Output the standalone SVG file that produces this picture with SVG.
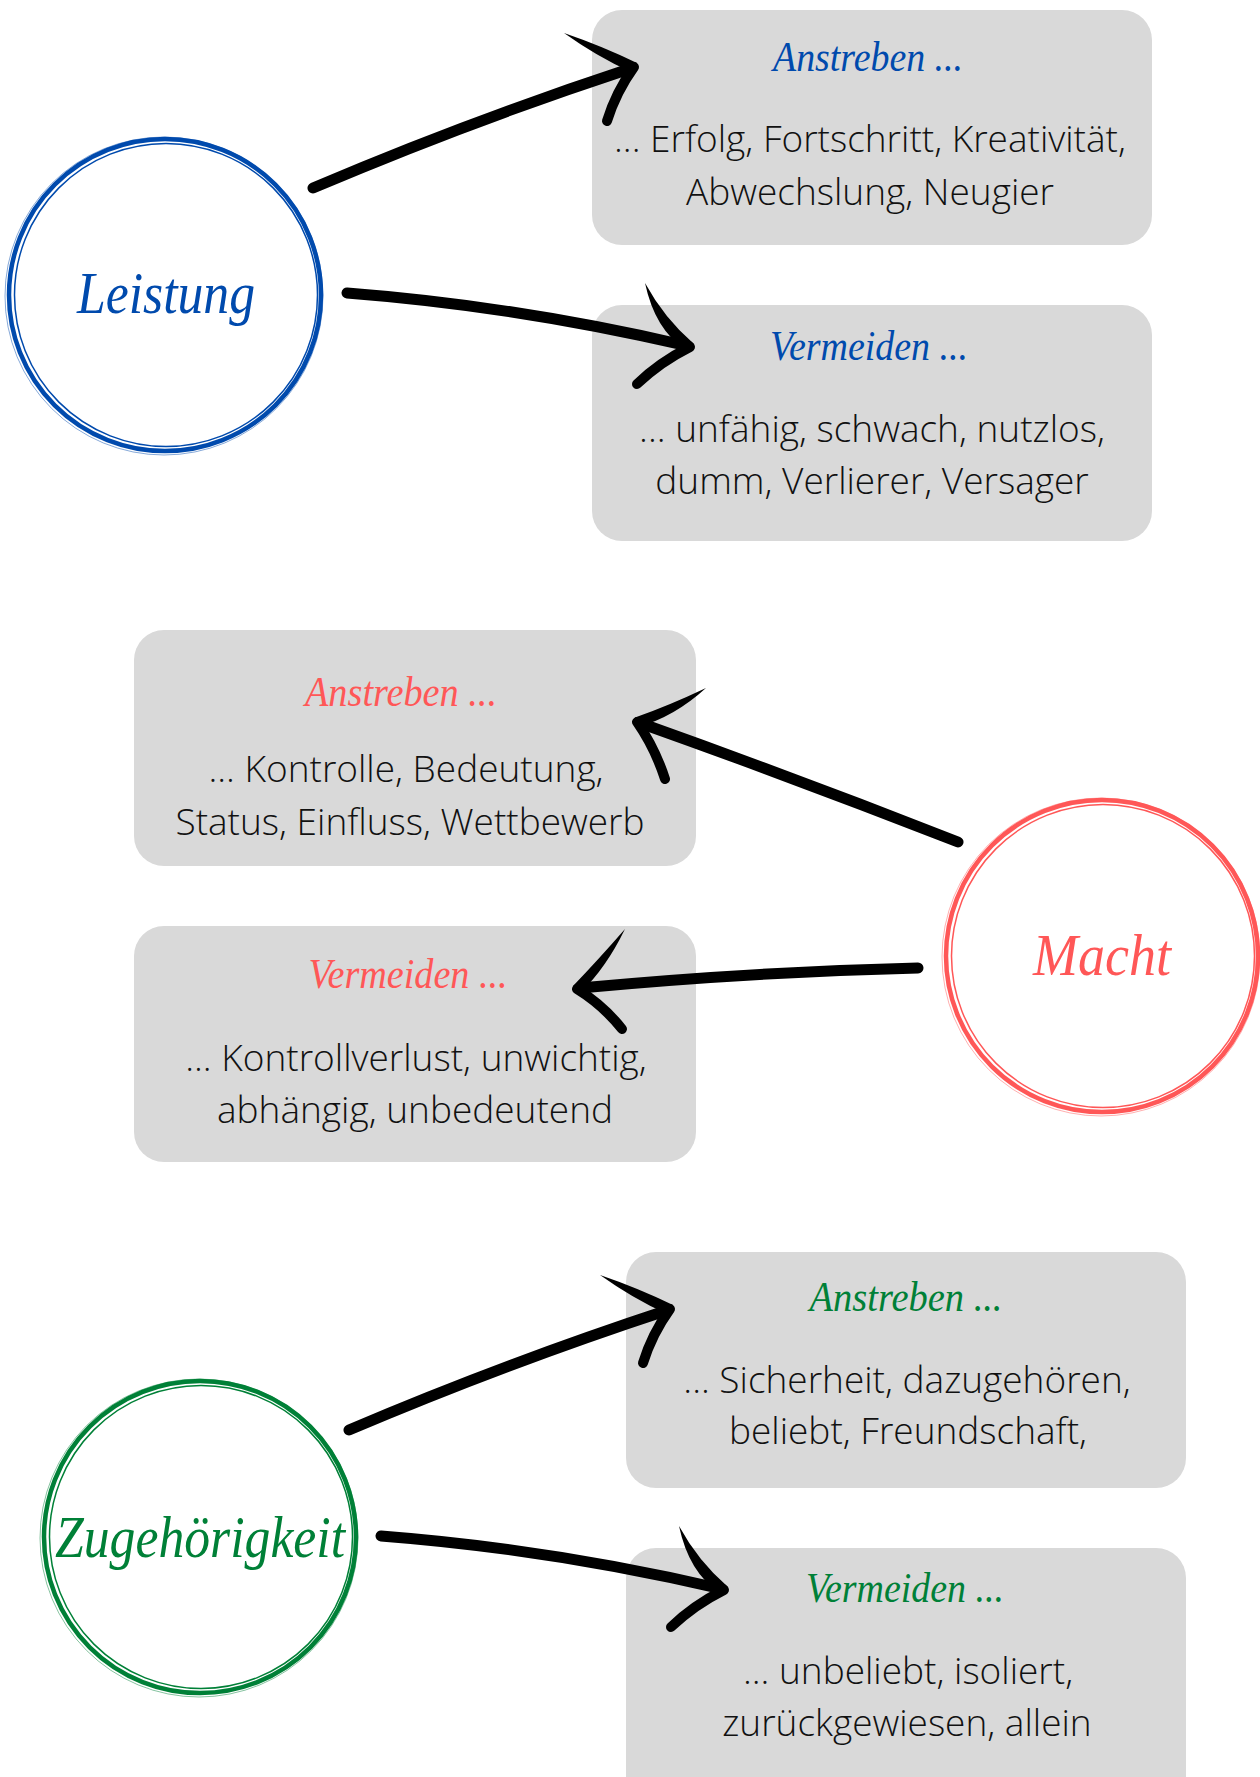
<svg xmlns="http://www.w3.org/2000/svg" width="1260" height="1777" viewBox="0 0 1260 1777">
<style>
.box{fill:#d9d9d9}
.body{font-family:"Open Sans","Noto Sans",sans-serif;font-weight:300;font-size:37px;fill:#111;text-anchor:middle}
.head{font-family:"Liberation Serif",serif;font-style:italic;font-size:42px;text-anchor:middle}
.lbl{font-family:"Liberation Serif",serif;font-style:italic;font-size:60px;text-anchor:middle}
.blue{fill:#004aad}.red{fill:#ff5757}.green{fill:#008037}
.ring{fill:none}
.shaft{fill:none;stroke:#000;stroke-width:11;stroke-linecap:round}
.barb{fill:none;stroke:#000;stroke-width:10;stroke-linecap:round}
.tip{fill:#000}
</style>
<rect width="1260" height="1777" fill="#fff"/>

<g id="leistung">
<circle class="ring" cx="165" cy="295" r="156" stroke="#004aad" stroke-width="4.5"/>
<circle class="ring" cx="166" cy="295" r="151.5" stroke="#004aad" stroke-width="1.5"/>
<circle class="ring" cx="164" cy="296" r="159" stroke="#004aad" stroke-width="0.8" opacity="0.6"/>
<text class="lbl blue" x="166" y="313" textLength="178" lengthAdjust="spacingAndGlyphs">Leistung</text>
</g>

<g id="leistung-anstreben">
<rect class="box" x="592" y="10" width="560" height="235" rx="30"/>
<text class="head blue" x="868" y="71" textLength="190" lengthAdjust="spacingAndGlyphs">Anstreben ...</text>
<text class="body" x="870" y="152">... Erfolg, Fortschritt, Kreativität,</text>
<text class="body" x="870" y="205">Abwechslung, Neugier</text>
</g>

<g id="leistung-vermeiden">
<rect class="box" x="592" y="305" width="560" height="236" rx="30"/>
<text class="head blue" x="869" y="360" textLength="198" lengthAdjust="spacingAndGlyphs">Vermeiden ...</text>
<text class="body" x="872" y="442">... unfähig, schwach, nutzlos,</text>
<text class="body" x="872" y="494">dumm, Verlierer, Versager</text>
</g>

<g id="macht">
<circle class="ring" cx="1102" cy="956" r="156" stroke="#ff5757" stroke-width="4.5"/>
<circle class="ring" cx="1103" cy="956" r="151.5" stroke="#ff5757" stroke-width="1.5"/>
<circle class="ring" cx="1101" cy="957" r="159" stroke="#ff5757" stroke-width="0.8" opacity="0.6"/>
<text class="lbl red" x="1102" y="975" textLength="138" lengthAdjust="spacingAndGlyphs">Macht</text>
</g>

<g id="macht-anstreben">
<rect class="box" x="134" y="630" width="562" height="236" rx="30"/>
<text class="head red" x="401" y="706" textLength="192" lengthAdjust="spacingAndGlyphs">Anstreben ...</text>
<text class="body" x="406" y="782">... Kontrolle, Bedeutung,</text>
<text class="body" x="410" y="835">Status, Einfluss, Wettbewerb</text>
</g>

<g id="macht-vermeiden">
<rect class="box" x="134" y="926" width="562" height="236" rx="30"/>
<text class="head red" x="408" y="988" textLength="199" lengthAdjust="spacingAndGlyphs">Vermeiden ...</text>
<text class="body" x="416" y="1071">... Kontrollverlust, unwichtig,</text>
<text class="body" x="415" y="1123">abhängig, unbedeutend</text>
</g>

<g id="zugehoerigkeit">
<circle class="ring" cx="200" cy="1537" r="156" stroke="#008037" stroke-width="4.5"/>
<circle class="ring" cx="201" cy="1537" r="151.5" stroke="#008037" stroke-width="1.5"/>
<circle class="ring" cx="199" cy="1538" r="159" stroke="#008037" stroke-width="0.8" opacity="0.6"/>
<text class="lbl green" x="200" y="1557" textLength="290" lengthAdjust="spacingAndGlyphs">Zugehörigkeit</text>
</g>

<g id="zugehoerigkeit-anstreben">
<rect class="box" x="626" y="1252" width="560" height="236" rx="30"/>
<text class="head green" x="906" y="1311" textLength="193" lengthAdjust="spacingAndGlyphs">Anstreben ...</text>
<text class="body" x="907" y="1393">... Sicherheit, dazugehören,</text>
<text class="body" x="908" y="1444">beliebt, Freundschaft,</text>
</g>

<g id="zugehoerigkeit-vermeiden">
<rect class="box" x="626" y="1548" width="560" height="270" rx="30"/>
<text class="head green" x="905" y="1602" textLength="198" lengthAdjust="spacingAndGlyphs">Vermeiden ...</text>
<text class="body" x="908" y="1684">... unbeliebt, isoliert,</text>
<text class="body" x="907" y="1736">zurückgewiesen, allein</text>
</g>

<g id="connectors">
<g id="arrow-leistung-anstreben">
<path class="shaft" d="M313,188 Q468,122 632,68"/>
<path class="tip" d="M637,63 Q602,46 564,33 Q596,56 631,72 Z"/>
<path class="barb" d="M634,67 Q616,92 607,121"/>
</g>
<g id="arrow-leistung-vermeiden">
<path class="shaft" d="M347,293 Q516,306 688,346"/>
<path class="tip" d="M694,344 Q664,318 645,283 Q655,330 686,350 Z"/>
<path class="barb" d="M690,347 Q660,362 637,384"/>
</g>
<g id="arrow-macht-anstreben">
<path class="shaft" d="M958,842 Q800,780 640,723"/>
<path class="tip" d="M635,717.5 Q668,706 706,688 Q674,717 639,726.5 Z"/>
<path class="barb" d="M637,722 Q655,748 665,779"/>
</g>
<g id="arrow-macht-vermeiden">
<path class="shaft" d="M918,968 Q750,972 580,988"/>
<path class="tip" d="M573,986 Q598,960 625,929 Q606,968 581,992 Z"/>
<path class="barb" d="M577,989 Q603,1005 622,1029"/>
</g>
<g id="arrow-zug-anstreben" transform="translate(36,1242)">
<path class="shaft" d="M313,188 Q468,122 632,68"/>
<path class="tip" d="M637,63 Q602,46 564,33 Q596,56 631,72 Z"/>
<path class="barb" d="M634,67 Q616,92 607,121"/>
</g>
<g id="arrow-zug-vermeiden" transform="translate(34,1243)">
<path class="shaft" d="M347,293 Q516,306 688,346"/>
<path class="tip" d="M694,344 Q664,318 645,283 Q655,330 686,350 Z"/>
<path class="barb" d="M690,347 Q660,362 637,384"/>
</g>
</g>
</svg>
